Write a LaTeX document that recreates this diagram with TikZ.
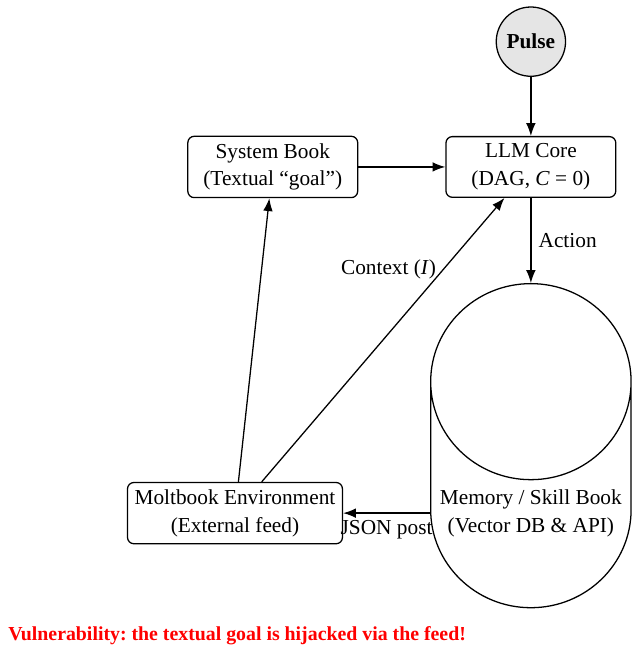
\documentclass[tikz,border=0pt]{standalone}
\usepackage{fontspec}
\setmainfont{Liberation Serif}
\usetikzlibrary{shapes.geometric, arrows.meta, positioning}

\begin{document}
\begin{tikzpicture}[
    node distance=40.8pt and 40.8pt,
    >={Latex[length=6pt,width=4.5pt]},
    every node/.style={font=\fontsize{10}{13}\selectfont},
    box/.style={draw, semithick, rounded corners=3pt, minimum width=2.8cm,
                minimum height=1cm, align=center},
    pulsenode/.style={circle, draw, semithick, fill=gray!20, minimum size=31.5pt,
                font=\bfseries},
    store/.style={cylinder, shape border rotate=90, draw, semithick, align=center,
                minimum width=94pt, minimum height=152pt},
    flow/.style={->, semithick}
]
\useasboundingbox (-249pt,-227.5pt) rectangle (51.1pt,78.3pt);
\node[box] (llm) {LLM Core \\ (DAG, \textit{C} = 0)};
\node[pulsenode, above=27.7pt of llm] (pulse) {Pulse};
\node[box, left=of llm] (sysbook) {System Book \\ (Textual ``goal'')};
\node[store, below=39.9pt of llm] (mem) {Memory / Skill Book \\ (Vector DB \& API)};
\node[box, left=of mem] (env) {Moltbook Environment \\ (External feed)};
\node[anchor=base west, text=red, font=\bfseries\fontsize{9.3}{11}\selectfont] (warn)
    at (-248.6pt,-222.1pt)
    {\frenchspacing Vulnerability: the textual goal is hijacked via the feed!};
\draw[flow] (pulse) -- (llm);
\draw[flow] (sysbook) -- (llm);
\draw[flow] (llm) -- node[right] {Action} (mem);
\draw[flow] (mem) -- node[below] {JSON post} (env);
\draw[flow] (env) -- node[left, near end] {Context (\textit{I})} (llm);
\draw[flow] (env) -- (sysbook);
\end{tikzpicture}
\end{document}
